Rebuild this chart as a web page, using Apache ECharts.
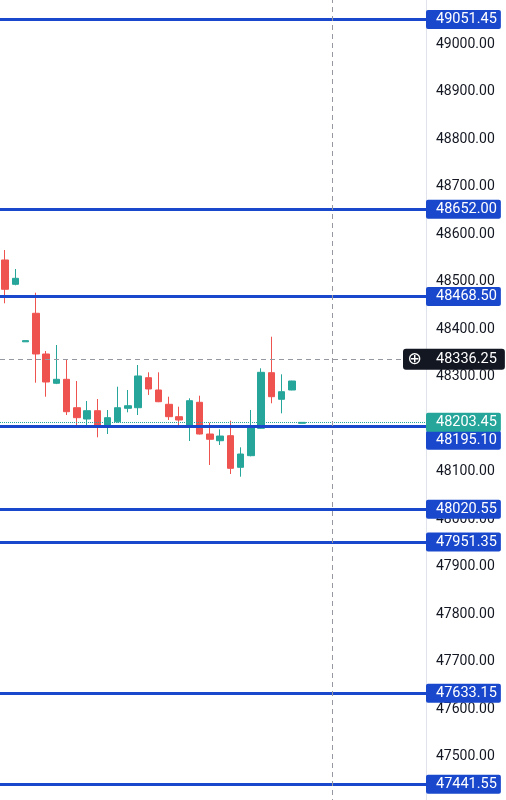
<!DOCTYPE html>
<html><head><meta charset="utf-8">
<script src="https://cdn.jsdelivr.net/npm/echarts@6/dist/echarts.min.js"></script>
<style>html,body{margin:0;padding:0;background:#fff}#c{width:506px;height:800px}</style>
</head><body><div id="c"></div><script>
// ---- data ----
const categories = Array.from({length: 42}, (_, i) => String(i + 1));
const opens  = [48545.3,48494.1,48373.0,48433.1,48347.4,48285.7,48294.1,48234.3,48210.5,48228.0,
                48197.9,48204.8,48233.0,48234.3,48297.5,48271.6,48241.5,48215.4,48197.9,48245.7,
                48178.9,48164.8,48175.4,48108.8,48133.3,48190.9,48308.0,48252.0,48271.6,48201.5];
const closes = [48483.6,48506.7,48375.5,48347.4,48288.4,48294.1,48225.9,48213.3,48228.0,48197.9,
                48213.3,48234.3,48238.5,48301.1,48273.7,48246.9,48215.4,48208.4,48249.1,48178.9,
                48167.8,48174.7,48106.7,48136.8,48193.1,48308.8,48257.5,48268.0,48290.5,48203.45];
const lows   = [48454.1,48492.0,48373.0,48286.9,48257.5,48284.0,48218.9,48197.9,48197.9,48172.0,
                48178.9,48203.0,48224.6,48218.9,48261.1,48246.0,48208.4,48196.4,48164.2,48178.0,
                48113.7,48155.8,48094.7,48089.1,48132.0,48190.0,48243.6,48222.5,48271.0,48201.5];
const highs  = [48566.3,48526.3,48375.5,48476.4,48353.7,48366.3,48336.2,48290.5,48248.4,48252.6,
                48229.5,48278.5,48271.6,48324.2,48308.8,48308.8,48257.5,48236.4,48254.1,48259.6,
                48202.7,48188.8,48206.9,48150.9,48229.5,48317.3,48383.8,48304.6,48291.0,48203.6];
const levels = [49051.45, 48652.00, 48468.50, 48020.55, 47951.35, 47633.15, 47441.55];
const shiftedLevel = 48195.10;
const lastPrice = 48203.45;
const crossPrice = 48336.25;
const crossCategory = categories[32];
const yMin = 47400, yMax = 49100, yStep = 100;

// ---- styles ----
const FONT = 'Roboto';
const BLUE = '#1a48cc', TEAL = '#26a69a', RED = '#ef5350', CROSS = '#9598a1';

function tag(bg, shift) {
  return {
    show: true, position: 'end', distance: -4,
    formatter: p => '{t|' + Number(p.value).toFixed(2) + '}',
    padding: shift ? [shift * 2, 0, 0, 0] : 0,
    rich: { t: { backgroundColor: bg, color: '#fff', fontSize: 14.5, fontFamily: FONT,
                 lineHeight: 19, height: 19, padding: [0, 4, 0, 10], borderRadius: 2 } }
  };
}

const candleData = opens.map((o, i) => [o, closes[i], lows[i], highs[i]]);

const markData = levels.map(v => ({
  yAxis: v, lineStyle: { color: BLUE, width: 3, type: 'solid' }, label: tag(BLUE, 0)
}));
markData.push({ yAxis: shiftedLevel, lineStyle: { color: BLUE, width: 3, type: 'solid' }, label: tag(BLUE, 14) });
markData.push({ yAxis: lastPrice, lineStyle: { color: TEAL, width: 1, type: 'dotted' }, label: tag(TEAL, 0) });
markData.push({ xAxis: crossCategory, lineStyle: { color: CROSS, width: 1, type: [5, 4] }, label: { show: false } });
markData.push({
  yAxis: crossPrice, lineStyle: { color: CROSS, width: 1, type: [5, 4] },
  label: {
    show: true, position: 'end', distance: -27,
    formatter: p => '{i|⊕}{p|' + Number(p.value).toFixed(2) + '}',
    backgroundColor: '#131722', borderRadius: 3, padding: 0,
    rich: {
      i: { width: 23, align: 'center', color: '#fff', fontSize: 17, height: 21, lineHeight: 21, fontFamily: 'DejaVu Sans' },
      p: { color: '#fff', fontSize: 14.5, fontFamily: FONT, height: 21, lineHeight: 21, padding: [0, 8, 0, 10] }
    }
  }
});

const chart = echarts.init(document.getElementById('c'));
chart.setOption({
  animation: false,
  backgroundColor: '#fff',
  grid: { left: 0, right: 76, top: -3.5, bottom: -4, containLabel: false, outerBoundsMode: 'none' },
  xAxis: { type: 'category', data: categories, show: false, boundaryGap: true },
  yAxis: {
    type: 'value', position: 'right', offset: -4, min: yMin, max: yMax, interval: yStep,
    axisLine: { show: true, lineStyle: { color: '#e0e3eb' } },
    axisTick: { show: false }, splitLine: { show: false },
    axisLabel: { color: '#131722', fontSize: 14, fontFamily: FONT, margin: 10,
                 showMinLabel: false, showMaxLabel: true,
                 formatter: v => v.toFixed(2) }
  },
  series: [{
    type: 'candlestick', data: candleData, barWidth: 7,
    itemStyle: { color: TEAL, color0: RED, borderColor: TEAL, borderColor0: RED, borderWidth: 1 },
    markLine: { symbol: ['none', 'none'], silent: true, animation: false, data: markData }
  }]
});
</script></body></html>
